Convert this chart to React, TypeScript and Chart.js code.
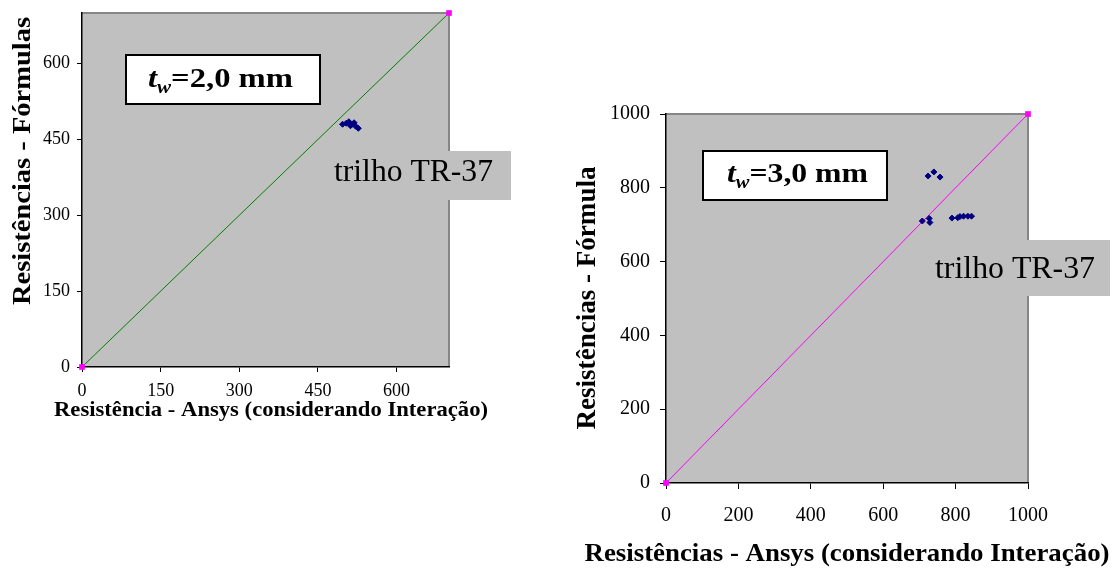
import React, { useEffect, useRef } from 'react';
import { Chart, registerables } from 'chart.js';

Chart.register(...registerables);

// ---------- data ----------
const leftTicks = [0, 150, 300, 450, 600];
const leftAxisMax = 700;
const leftRefX = [0, 700];
const leftRefY = [0, 700];
const leftAnsys = [497, 504, 509, 512, 515, 519, 522, 527];
const leftFormula = [480, 482, 485, 477, 480, 483, 476, 472];

const rightTicks = [0, 200, 400, 600, 800, 1000];
const rightAxisMax = 1000;
const rightRefX = [0, 1000];
const rightRefY = [0, 1000];
const rightAnsys = [724, 740, 757, 708, 727, 729, 790, 806, 812, 822, 834, 844];
const rightFormula = [832, 843, 829, 710, 717, 706, 718, 719, 722, 723, 723, 723];

const leftXTitle = 'Resistência - Ansys (considerando Interação)';
const leftYTitle = 'Resistências - Fórmulas';
const rightXTitle = 'Resistências - Ansys (considerando Interação)';
const rightYTitle = 'Resistências - Fórmula';
const railLabel = 'trilho TR-37';
const leftThickness = '=2,0 mm';
const rightThickness = '=3,0 mm';

const SERIF = "'Liberation Serif', 'Times New Roman', serif";

function fitText(ctx: CanvasRenderingContext2D, text: string, x: number, y: number, font: string, width: number, angle = 0) {
  ctx.save();
  ctx.font = font;
  const w = ctx.measureText(text).width;
  ctx.translate(x, y);
  ctx.rotate(angle);
  ctx.scale(width / w, 1);
  ctx.textAlign = 'center';
  ctx.textBaseline = 'alphabetic';
  ctx.fillStyle = '#000';
  ctx.fillText(text, 0, 0);
  ctx.restore();
}

function drawThickness(ctx: CanvasRenderingContext2D, rest: string, x0: number, x1: number, baseline: number, size: number) {
  ctx.save();
  const fT = `italic bold ${size}px ${SERIF}`;
  const fW = `italic bold ${Math.round(size * 0.65)}px ${SERIF}`;
  const fR = `bold ${size}px ${SERIF}`;
  ctx.font = fT; const wt = ctx.measureText('t').width;
  ctx.font = fW; const ww = ctx.measureText('w').width;
  ctx.font = fR; const wr = ctx.measureText(rest).width;
  const total = wt + ww + wr;
  ctx.translate(x0, baseline);
  ctx.scale((x1 - x0) / total, 1);
  ctx.fillStyle = '#000';
  ctx.textBaseline = 'alphabetic';
  ctx.textAlign = 'left';
  ctx.font = fT; ctx.fillText('t', 0, 0);
  ctx.font = fW; ctx.fillText('w', wt, size * 0.2);
  ctx.font = fR; ctx.fillText(rest, wt + ww, 0);
  ctx.restore();
}

type Deco = {
  xTitle: string; yTitle: string;
  xTitlePos: [number, number, number, number];
  yTitlePos: [number, number, number, number];
  box: [number, number, number, number];
  thick: string; thickPos: [number, number, number, number];
  rail: [number, number, number, number];
  railText: [number, number, number, number];
};

function makePlugin(d: Deco) {
  return {
    id: 'deco',
    beforeDraw(chart: any) {
      const { ctx, chartArea: a } = chart;
      ctx.save();
      ctx.fillStyle = '#C0C0C0';
      ctx.fillRect(a.left, a.top, a.right - a.left, a.bottom - a.top);
      ctx.strokeStyle = '#868686';
      ctx.lineWidth = 2;
      ctx.beginPath();
      ctx.moveTo(a.left, a.top);
      ctx.lineTo(a.right, a.top);
      ctx.lineTo(a.right, a.bottom);
      ctx.stroke();
      ctx.restore();
    },
    afterDraw(chart: any) {
      const ctx: CanvasRenderingContext2D = chart.ctx;
      ctx.save();
      const [bx0, by0, bx1, by1] = d.box;
      ctx.fillStyle = '#fff';
      ctx.fillRect(bx0, by0, bx1 - bx0, by1 - by0);
      ctx.strokeStyle = '#000';
      ctx.lineWidth = 2;
      ctx.strokeRect(bx0, by0, bx1 - bx0, by1 - by0);
      drawThickness(ctx, d.thick, d.thickPos[0], d.thickPos[1], d.thickPos[2], d.thickPos[3]);
      const [rx0, ry0, rx1, ry1] = d.rail;
      ctx.fillStyle = '#C0C0C0';
      ctx.fillRect(rx0, ry0, rx1 - rx0, ry1 - ry0);
      const [tx0, tx1, tb, ts] = d.railText;
      fitText(ctx, railLabel, (tx0 + tx1) / 2, tb, `${ts}px ${SERIF}`, tx1 - tx0);
      const [xc, xb, xw, xs] = d.xTitlePos;
      fitText(ctx, d.xTitle, xc, xb, `bold ${xs}px ${SERIF}`, xw);
      const [yb, yc, yw, ys] = d.yTitlePos;
      fitText(ctx, d.yTitle, yb, yc, `bold ${ys}px ${SERIF}`, yw, -Math.PI / 2);
      ctx.restore();
    },
  };
}

function axis(ticks: number[], max: number, size: number, tl: number, pad: number, fit: (s: any) => void) {
  return {
    type: 'linear' as const,
    min: 0,
    max,
    afterBuildTicks: (s: any) => { s.ticks = ticks.map((v) => ({ value: v })); },
    afterFit: (s: any) => {
      fit(s);
      s.paddingTop = 0; s.paddingBottom = 0; s.paddingLeft = 0; s.paddingRight = 0;
    },
    grid: { drawOnChartArea: false, drawTicks: true, tickLength: tl, color: '#000', lineWidth: 1 },
    border: { display: true, color: '#000', width: 1.5 },
    ticks: {
      font: { family: SERIF, size },
      color: '#000',
      padding: pad,
      maxRotation: 0,
      autoSkip: false,
      callback: (v: any) => String(v),
    },
  };
}

function buildConfig(opts: any): any {
  const { refX, refY, xs, ys, lineColor, ticks, max, size, tl, padX, padY, yWidth, xHeight, padding, deco } = opts;
  return {
    type: 'scatter',
    data: {
      datasets: [
        {
          data: xs.map((x: number, i: number) => ({ x, y: ys[i] })),
          pointStyle: 'rectRot',
          pointRadius: 3,
          backgroundColor: '#000080',
          borderColor: '#000080',
          borderWidth: 1,
          clip: false,
        },
        {
          data: refX.map((x: number, i: number) => ({ x, y: refY[i] })),
          showLine: true,
          borderColor: lineColor,
          borderWidth: 1,
          pointStyle: 'rect',
          pointRadius: 4,
          pointBackgroundColor: '#FF00FF',
          pointBorderColor: '#FF00FF',
          pointBorderWidth: 0,
          clip: false,
        },
      ],
    },
    options: {
      responsive: false,
      animation: false,
      devicePixelRatio: 1,
      layout: { padding },
      plugins: { legend: { display: false }, tooltip: { enabled: false } },
      scales: {
        x: axis(ticks, max, size, tl, padX, (s: any) => { s.height = xHeight; }),
        y: axis(ticks, max, size, tl, padY, (s: any) => { s.width = yWidth; }),
      },
    },
    plugins: [makePlugin(deco)],
  };
}

export default function App() {
  const leftRef = useRef<HTMLCanvasElement>(null);
  const rightRef = useRef<HTMLCanvasElement>(null);

  useEffect(() => {
    const left = new Chart(leftRef.current as HTMLCanvasElement, buildConfig({
      refX: leftRefX, refY: leftRefY, xs: leftAnsys, ys: leftFormula, lineColor: '#008000',
      ticks: leftTicks, max: leftAxisMax, size: 18, tl: 5, padX: 8, padY: 7,
      yWidth: 82, xHeight: 201,
      padding: { left: 0, top: 13, right: 1116 - 449, bottom: 0 },
      deco: {
        xTitle: leftXTitle, yTitle: leftYTitle,
        xTitlePos: [271, 416, 434, 22],
        yTitlePos: [30, 161, 288, 25],
        box: [126, 55, 320, 104],
        thick: leftThickness, thickPos: [148, 293, 87, 28],
        rail: [318, 151, 511, 200],
        railText: [334, 493, 181, 31],
      },
    }));
    const right = new Chart(rightRef.current as HTMLCanvasElement, buildConfig({
      refX: rightRefX, refY: rightRefY, xs: rightAnsys, ys: rightFormula, lineColor: '#FF00FF',
      ticks: rightTicks, max: rightAxisMax, size: 20, tl: 6, padX: 15, padY: 10,
      yWidth: 666, xHeight: 568 - 483,
      padding: { left: 0, top: 114, right: 1116 - 1028, bottom: 0 },
      deco: {
        xTitle: rightXTitle, yTitle: rightYTitle,
        xTitlePos: [847, 561, 525, 26],
        yTitlePos: [595, 298, 263, 27],
        box: [703, 151, 887, 200],
        thick: rightThickness, thickPos: [727, 868, 182, 28],
        rail: [925, 240, 1110, 296],
        railText: [935, 1095, 278, 31],
      },
    }));
    return () => { left.destroy(); right.destroy(); };
  }, []);

  const cs: React.CSSProperties = { position: 'absolute', left: 0, top: 0, width: 1116, height: 568 };
  return (
    <div style={{ position: 'fixed', left: 0, top: 0, width: 1116, height: 568, background: '#fff' }}>
      <canvas ref={leftRef} width={1116} height={568} style={cs} />
      <canvas ref={rightRef} width={1116} height={568} style={cs} />
    </div>
  );
}
